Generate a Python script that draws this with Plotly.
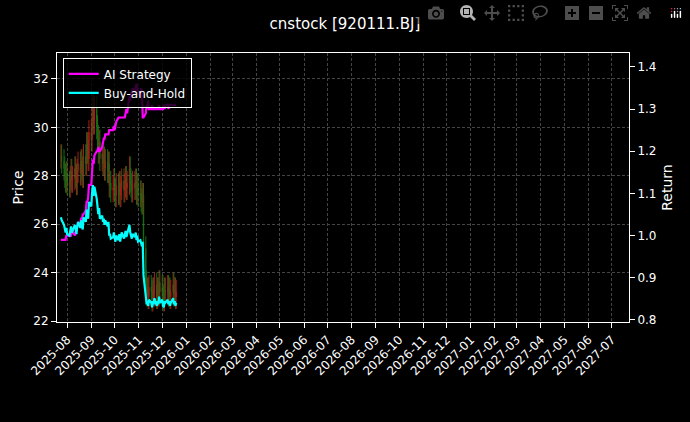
import pandas as pd
import plotly.graph_objects as go

start_date = "2025-07-24"
closes = [28.8, 28.6,
          28.3, 28.0, 27.8, 28.1, 27.7,
          27.6, 27.9, 28.2, 27.8, 27.9,
          28.3, 28.0, 27.7, 28.2, 28.5,
          28.1, 28.6, 28.3, 28.0, 28.8,
          28.5, 29.3, 29.0, 28.7, 29.8,
          29.5, 30.4, 30.9, 30.2, 30.8,
          30.0, 29.6, 29.0, 29.4, 28.7,
          28.9, 28.5, 28.7, 28.3, 28.6,
          28.2, 28.5, 27.6, 27.7, 27.4,
          27.5, 27.8, 27.4, 27.2, 27.6,
          27.3, 27.7, 27.2, 27.5, 27.8,
          27.4, 27.6, 27.9, 27.5, 27.7,
          28.3, 27.8, 27.6, 27.4, 27.7,
          27.5, 27.8, 27.3, 27.6, 27.2,
          27.3, 27.0, 26.9, 27.2, 25.0,
          23.6, 23.1, 23.3, 23.0, 23.4,
          23.2, 22.9, 23.3, 23.1, 23.5,
          23.0, 23.3, 23.1, 23.6, 23.2,
          23.4, 23.0, 22.9, 23.3, 23.2,
          23.4, 23.1, 23.3, 23.0, 23.2,
          23.5, 23.1, 23.3, 23.0, 23.2]
ai_returns = [0.99, 0.99,
              0.99, 0.99, 0.99, 1.00, 1.00,
              1.00, 1.00, 1.00, 1.01, 1.01,
              1.00, 1.01, 1.02, 1.02, 1.03,
              1.03, 1.04, 1.04, 1.05, 1.05,
              1.06, 1.08, 1.08, 1.09, 1.12,
              1.12, 1.15, 1.18, 1.17, 1.19,
              1.20, 1.20, 1.21, 1.20, 1.20,
              1.21, 1.22, 1.23, 1.23, 1.24,
              1.24, 1.24, 1.25, 1.25, 1.25,
              1.25, 1.26, 1.25, 1.26, 1.27,
              1.28, 1.28, 1.28, 1.28, 1.28,
              1.28, 1.28, 1.29, 1.30, 1.29,
              1.33, 1.32, 1.34, 1.33, 1.35,
              1.34, 1.35, 1.36, 1.35, 1.34,
              1.33, 1.35, 1.34, 1.28, 1.28,
              1.29, 1.31, 1.30, 1.32, 1.30,
              1.30, 1.31, 1.30, 1.30, 1.30,
              1.30, 1.30, 1.30, 1.31, 1.30,
              1.30, 1.30, 1.31, 1.30, 1.31,
              1.31, 1.30, 1.31, 1.31, 1.31,
              1.31, 1.31, 1.31, 1.31, 1.31]
bh_base = 27.6
wick = 0.5

dates = pd.bdate_range(start=start_date, periods=len(closes))
opens = [closes[0]] + closes[:-1]
highs = [max(o, c) + wick for o, c in zip(opens, closes)]
lows = [min(o, c) - wick for o, c in zip(opens, closes)]
bh = [c / bh_base for c in closes]

fig = go.Figure()
fig.add_trace(go.Candlestick(x=dates, open=opens, high=highs, low=lows, close=closes,
                             increasing=dict(line=dict(color="#d62020", width=1), fillcolor="#d62020"),
                             decreasing=dict(line=dict(color="#1a8a1a", width=1), fillcolor="#1a8a1a"),
                             whiskerwidth=0, opacity=0.8, showlegend=False, yaxis="y"))
fig.add_trace(go.Scatter(x=dates, y=ai_returns, mode="lines", name="AI Strategy",
                         line=dict(color="#ff00ff", width=2.2), yaxis="y2"))
fig.add_trace(go.Scatter(x=dates, y=bh, mode="lines", name="Buy-and-Hold",
                         line=dict(color="#00ffff", width=2.2), yaxis="y2"))

ticks = pd.date_range("2025-08-01", "2027-07-01", freq="MS")
grid = dict(showgrid=True, gridcolor="#444", griddash="3px,2px", gridwidth=0.6)
fig.update_layout(
    width=690, height=422, paper_bgcolor="black", plot_bgcolor="black",
    margin=dict(l=57, r=61, t=53, b=100),
    font=dict(family="DejaVu Sans", color="white", size=12),
    title=dict(text="cnstock [920111.BJ]", x=0.5, y=0.955, xanchor="center", font=dict(size=15)),
    xaxis=dict(range=["2025-07-19", "2027-07-23"], tickvals=ticks,
               ticktext=[d.strftime("%Y-%m") for d in ticks], tickangle=-45,
               rangeslider=dict(visible=False), showline=True, linecolor="white",
               mirror=True, ticks="outside", tickcolor="white", **grid),
    yaxis=dict(title=dict(text="Price", standoff=6), range=[21.96, 33.07], dtick=2, showline=True,
               linecolor="white", mirror=True, ticks="outside", tickcolor="white", zeroline=False, **grid),
    yaxis2=dict(title=dict(text="Return", standoff=6), range=[0.795, 1.433], dtick=0.1, overlaying="y",
                side="right", showline=True, linecolor="white", ticks="outside", tickcolor="white",
                tickformat=".1f", showgrid=False, zeroline=False),
    legend=dict(x=0.01, y=0.98, xanchor="left", yanchor="top", bgcolor="rgba(0,0,0,0.8)",
                bordercolor="white", borderwidth=1, font=dict(size=12)),
)
fig.write_html("out.html")
with open("out.html", encoding="utf-8") as f:
    html = f.read()
html = html.replace("<body>", '<body style="margin:0;background:black">', 1)
with open("out.html", "w", encoding="utf-8") as f:
    f.write(html)
